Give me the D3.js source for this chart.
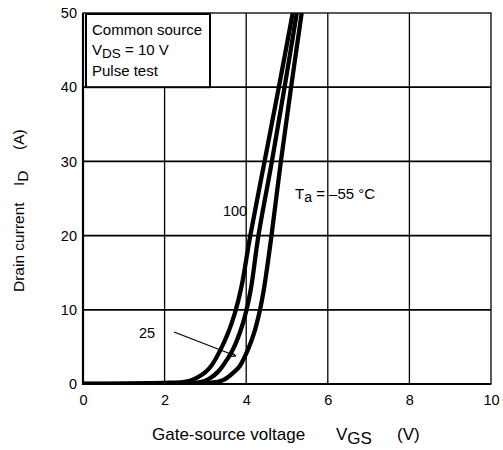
<!DOCTYPE html>
<html>
<head>
<meta charset="utf-8">
<script src="https://cdn.jsdelivr.net/npm/d3@7"></script>
<style>
  html, body { margin: 0; padding: 0; background: #fff; }
  text { font-family: "Liberation Sans", Arial, sans-serif; fill: #000; }
</style>
</head>
<body>
<svg id="chart" width="503" height="450"></svg>
<script>
// ---- data ----
const xTicks = [0, 2, 4, 6, 8, 10];
const yTicks = [0, 10, 20, 30, 40, 50];

const vgs100 = [0, 1.0, 2.0, 2.45, 2.64, 2.83, 3.0, 3.15, 3.36, 3.55, 3.72, 3.88, 4.10, 4.45, 4.80, 5.14];
const id100  = [0, 0.05, 0.15, 0.25, 0.45, 0.95, 1.6, 2.5, 4.5, 6.8, 9.5, 13, 20, 30, 40, 50];

const vgs25 = [0, 2.0, 2.75, 2.98, 3.15, 3.30, 3.42, 3.67, 3.85, 4.0, 4.12, 4.30, 4.63, 4.94, 5.24];
const id25  = [0, 0.05, 0.15, 0.4, 0.9, 1.6, 2.4, 4.6, 7, 9.8, 13, 20, 30, 40, 50];

const vgsM55 = [0, 2.0, 3.1, 3.35, 3.52, 3.70, 3.84, 4.04, 4.20, 4.33, 4.44, 4.62, 4.85, 5.10, 5.36];
const idM55  = [0, 0.05, 0.15, 0.35, 0.8, 1.6, 2.4, 4.6, 7, 9.8, 13, 20, 30, 40, 50];

const seriesNames = ["100", "25", "-55"];

// ---- layout ----
const svg = d3.select("#chart");
const L = 83, R = 491, T = 13, B = 384;
const x = d3.scaleLinear().domain([0, 10]).range([L, R]);
const y = d3.scaleLinear().domain([0, 50]).range([B, T]);

const series = [
  vgs100.map((v, i) => [v, id100[i]]),
  vgs25.map((v, i) => [v, id25[i]]),
  vgsM55.map((v, i) => [v, idM55[i]])
];

// grid
const grid = svg.append("g");
grid.selectAll(".vg").data(xTicks.slice(1, -1)).join("line")
  .attr("x1", d => x(d)).attr("x2", d => x(d)).attr("y1", T).attr("y2", B)
  .attr("stroke", "#000").attr("stroke-width", 1.3);
grid.selectAll(".hg").data(yTicks.slice(1, -1)).join("line")
  .attr("x1", L).attr("x2", R).attr("y1", d => y(d)).attr("y2", d => y(d))
  .attr("stroke", "#000").attr("stroke-width", 1.7);
// frame
svg.append("rect").attr("x", L).attr("y", T).attr("width", R - L).attr("height", B - T)
  .attr("fill", "none").attr("stroke", "#000").attr("stroke-width", 1.3);
svg.append("line").attr("x1", L).attr("x2", L).attr("y1", T).attr("y2", B + 1)
  .attr("stroke", "#000").attr("stroke-width", 2.2);
svg.append("line").attr("x1", L - 1).attr("x2", R).attr("y1", B).attr("y2", B)
  .attr("stroke", "#000").attr("stroke-width", 2.2);

// axes (labels only)
const xAxis = d3.axisBottom(x).tickValues(xTicks).tickSize(0).tickPadding(11);
const gx = svg.append("g").attr("transform", `translate(0,${B})`).call(xAxis);
gx.select(".domain").remove();
gx.selectAll("text").style("font-size", "14.5px").style("font-family", "Liberation Sans, Arial, sans-serif");

const yAxis = d3.axisLeft(y).tickValues(yTicks).tickSize(0).tickPadding(6);
const gy = svg.append("g").attr("transform", `translate(${L},0)`).call(yAxis);
gy.select(".domain").remove();
gy.selectAll("text").style("font-size", "14.5px").style("font-family", "Liberation Sans, Arial, sans-serif");

// legend box
svg.append("rect").attr("x", 86).attr("y", 14).attr("width", 124).attr("height", y(40) - 14)
  .attr("fill", "#fff").attr("stroke", "#000").attr("stroke-width", 2);
const lg = svg.append("g").style("font-size", "15px");
lg.append("text").attr("x", 92).attr("y", 35).text("Common source");
const t2 = lg.append("text").attr("x", 92).attr("y", 55);
t2.append("tspan").text("V");
t2.append("tspan").attr("dy", 3).style("font-size", "13.5px").text("DS");
t2.append("tspan").attr("dy", -3).text(" = 10 V");
lg.append("text").attr("x", 92).attr("y", 76).text("Pulse test");

// curves
svg.append("clipPath").attr("id", "clip").append("rect")
  .attr("x", L).attr("y", T).attr("width", R - L).attr("height", B - T + 1);
const line = d3.line().x(d => x(d[0])).y(d => y(d[1])).curve(d3.curveCatmullRom.alpha(0.5));
svg.append("g").attr("clip-path", "url(#clip)")
  .selectAll("path").data(series).join("path")
  .attr("d", line).attr("fill", "none").attr("stroke", "#000")
  .attr("stroke-width", 4.3).attr("stroke-linejoin", "round");

// annotations
svg.append("text").attr("x", 235).attr("y", 216).attr("text-anchor", "middle")
  .style("font-size", "14.5px").text(seriesNames[0]);
svg.append("text").attr("x", 147).attr("y", 338).attr("text-anchor", "middle")
  .style("font-size", "14.5px").text(seriesNames[1]);
const ta = svg.append("text").attr("x", 295).attr("y", 199).style("font-size", "15px")
  .style("white-space", "pre");
ta.append("tspan").text("T");
ta.append("tspan").attr("dy", 3).style("font-size", "14px").text("a");
ta.append("tspan").attr("dy", -3).text(" = \u2013" + seriesNames[2].slice(1) + " \u00B0C");

// arrow
const ax1 = 174, ay1 = 332, ax2 = 236, ay2 = 356;
svg.append("line").attr("x1", ax1).attr("y1", ay1).attr("x2", ax2).attr("y2", ay2)
  .attr("stroke", "#000").attr("stroke-width", 1.3);
const ang = Math.atan2(ay2 - ay1, ax2 - ax1);
const hl = 7, hw = 0.45;
svg.append("path")
  .attr("d", `M${ax2 - hl * Math.cos(ang - hw)},${ay2 - hl * Math.sin(ang - hw)} L${ax2},${ay2} L${ax2 - hl * Math.cos(ang + hw)},${ay2 - hl * Math.sin(ang + hw)}`)
  .attr("fill", "none").attr("stroke", "#000").attr("stroke-width", 1);

// axis titles
const xt = svg.append("g").style("font-size", "17px");
xt.append("text").attr("x", 152).attr("y", 440).text("Gate-source voltage");
const xv = xt.append("text").attr("x", 336).attr("y", 440);
xv.append("tspan").text("V");
xv.append("tspan").attr("dy", 4).text("GS");
xt.append("text").attr("x", 397).attr("y", 440).text("(V)");

const yt = svg.append("g").attr("transform", "translate(24,0) rotate(-90)").style("font-size", "15.5px");
yt.append("text").attr("x", -292).attr("y", 0).text("Drain current");
const yi = yt.append("text").attr("x", -186).attr("y", 0);
yi.append("tspan").text("I");
yi.append("tspan").attr("dy", 4).text("D");
yt.append("text").attr("x", -150).attr("y", 0).text("(A)");
</script>
</body>
</html>
